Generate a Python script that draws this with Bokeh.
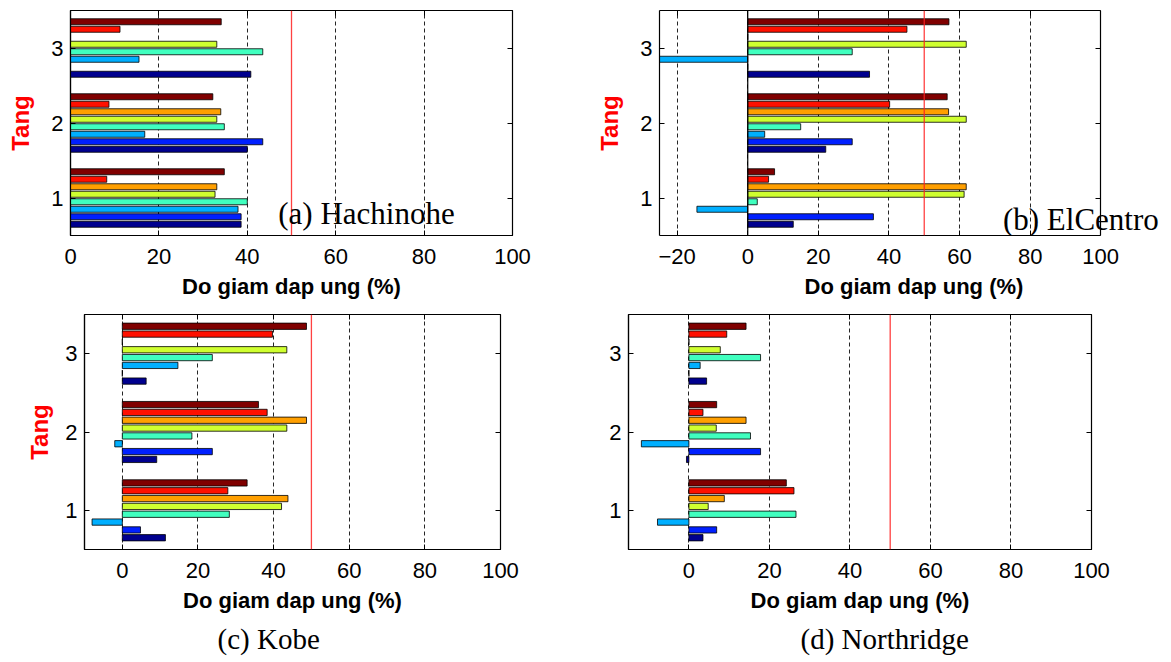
from bokeh.plotting import figure
from bokeh.layouts import column, row
from bokeh.models import (Range1d, FixedTicker, LinearAxis, Span, Label,
                          Title, CustomJSTickFormatter)
from bokeh.embed import file_html
from bokeh.resources import INLINE

# ---------------- data ----------------
groups = [1, 2, 3]
group_labels = ["1", "2", "3"]
x_label = "Do giam dap ung (%)"
y_label = "Tang"

# series colours (bottom -> top within each group), jet colormap
series_colors = ["#00008F", "#0020FF", "#00AFFF", "#40FFBF",
                 "#CFFF30", "#FF9F00", "#FF1000", "#800000"]

# values per series, for Tang 1, 2, 3
hachinohe = [
    [38.6, 40.0, 40.8],
    [38.6, 43.5, 0.0],
    [37.9, 16.8, 15.5],
    [40.0, 34.8, 43.5],
    [32.7, 33.1, 33.1],
    [33.1, 34.0, 0.0],
    [8.2, 8.7, 11.2],
    [34.8, 32.2, 34.1],
]
elcentro = [
    [12.9, 22.1, 34.5],
    [35.6, 29.6, 0.0],
    [-14.4, 4.8, -25.0],
    [2.7, 15.0, 29.6],
    [61.3, 61.9, 61.9],
    [61.9, 56.9, 0.0],
    [5.9, 40.2, 45.1],
    [7.6, 56.5, 57.0],
]
kobe = [
    [11.4, 9.1, 6.3],
    [4.8, 23.8, 0.0],
    [-8.0, -2.0, 14.7],
    [28.3, 18.4, 23.8],
    [42.1, 43.5, 43.5],
    [43.8, 48.7, 0.0],
    [27.9, 38.3, 39.7],
    [33.0, 36.0, 48.7],
]
northridge = [
    [3.5, -0.6, 4.4],
    [6.9, 17.8, 0.0],
    [-7.8, -11.8, 2.8],
    [26.6, 15.3, 17.8],
    [4.8, 6.8, 7.8],
    [8.8, 14.2, 0.0],
    [26.1, 3.5, 9.4],
    [24.2, 6.9, 14.2],
]

threshold = 50
xmax = 100
captions = ["(a) Hachinohe", "(b) ElCentro", "(c) Kobe", "(d) Northridge"]

TICK_FONT = "Liberation Sans"
CAP_FONT = "Liberation Serif"
blank = CustomJSTickFormatter(code="return ''")


def hidden_axis(ticks, **kw):
    return LinearAxis(ticker=FixedTicker(ticks=ticks), formatter=blank,
                      major_label_text_font_size="1px",
                      major_label_standoff=0, major_tick_in=5,
                      major_tick_out=0, minor_tick_line_color=None,
                      major_tick_line_color="black", **kw)


def make_panel(data, xmin, xticks, width, height, borders, ylabel_standoff,
               extra_right=0.0):
    bl, br, bt, bb = borders
    x_end = xmax + extra_right
    p = figure(width=width, height=height, output_backend="svg",
               toolbar_location=None,
               x_range=Range1d(xmin, x_end), y_range=Range1d(0.5, 3.5),
               min_border_left=bl, min_border_right=br,
               min_border_top=bt, min_border_bottom=bb)
    p.background_fill_color = "white"
    p.border_fill_color = "white"
    if extra_right:
        p.outline_line_color = None
    else:
        p.outline_line_color = "black"
        p.outline_line_width = 1.2

    n = len(data)
    for i, vals in enumerate(data):
        ys = [g + (i - (n - 1) / 2) * 0.1 for g in groups]
        p.hbar(y=ys, right=vals, left=0, height=0.08,
               fill_color=series_colors[i], line_color="black",
               line_width=0.8)

    xt = FixedTicker(ticks=xticks)
    xa = p.xaxis[0]
    ya = p.yaxis[0]
    xa.ticker = xt
    ya.ticker = FixedTicker(ticks=groups)
    ya.major_label_overrides = {g: s for g, s in zip(groups, group_labels)}
    for ax in (xa, ya):
        ax.major_tick_in = 5
        ax.major_tick_out = 0
        ax.minor_tick_line_color = None
        ax.major_label_text_font = TICK_FONT
        ax.major_label_text_font_size = "22px"
        ax.major_label_text_color = "black"
        ax.axis_line_color = "black"
        ax.axis_line_width = 1.2
        ax.major_tick_line_color = "black"
        ax.axis_label_text_font = TICK_FONT
        ax.axis_label_text_font_style = "bold"
    xa.major_label_standoff = 13
    ya.major_label_standoff = 7
    xa.axis_label = x_label
    xa.axis_label_text_font_size = "22px"
    xa.axis_label_text_color = "black"
    xa.axis_label_standoff = 7
    if ylabel_standoff is not None:
        ya.axis_label = y_label
        ya.axis_label_text_font_size = "24px"
        ya.axis_label_text_color = "red"
        ya.axis_label_standoff = ylabel_standoff

    if extra_right:
        xa.bounds = (xmin, xmax)
        top = hidden_axis(xticks, bounds=(xmin, xmax), axis_line_color="black",
                          axis_line_width=1.2)
        right = hidden_axis(groups, fixed_location=xmax,
                            axis_line_color="black", axis_line_width=1.2)
    else:
        top = hidden_axis(xticks, axis_line_color=None)
        right = hidden_axis(groups, axis_line_color=None)
    p.add_layout(top, "above")
    p.add_layout(right, "right")

    p.xgrid.ticker = xt
    p.xgrid.grid_line_color = "black"
    p.xgrid.grid_line_dash = "4 3"
    p.xgrid.grid_line_width = 1
    p.xgrid.grid_line_alpha = 0.85
    p.ygrid.grid_line_color = None

    p.add_layout(Span(location=threshold, dimension="height",
                      line_color="#ff2020", line_width=1.3, line_alpha=0.85))
    return p


pa = make_panel(hachinohe, -0.0, [0, 20, 40, 60, 80, 100], 585, 305,
                (70, 73, 10, 69), 14)
pb = make_panel(elcentro, -25, [-20, 0, 20, 40, 60, 80, 100], 585, 305,
                (74, 2, 9, 70), 14, extra_right=19.2)
pc = make_panel(kobe, -10, [0, 20, 40, 60, 80, 100], 585, 355,
                (84, 85, 8, 110), 9)
pd = make_panel(northridge, -15, [0, 20, 40, 60, 80, 100], 585, 355,
                (43, 79, 9, 110), None)

# zero baseline in (b)
pb.add_layout(Span(location=0, dimension="height", line_color="black",
                   line_width=1.2))

# captions
pa.add_layout(Label(x=47.0, y=0.796, text=captions[0], text_font=CAP_FONT,
                    text_font_size="31px", text_color="black",
                    text_align="left", text_baseline="alphabetic"))
pb.add_layout(Label(x=72.3, y=0.71, text=captions[1], text_font=CAP_FONT,
                    text_font_size="31px", text_color="black",
                    text_align="left", text_baseline="alphabetic"))
pc.add_layout(Title(text=captions[2], align="left", offset=133,
                    text_font=CAP_FONT, text_font_size="29px",
                    text_font_style="normal", text_color="black",
                    standoff=11), "below")
pd.add_layout(Title(text=captions[3], align="left", offset=172,
                    text_font=CAP_FONT, text_font_size="29px",
                    text_font_style="normal", text_color="black",
                    standoff=11), "below")

layout = column(row(pa, pb, spacing=0), row(pc, pd, spacing=0), spacing=0)

with open("out.html", "w") as f:
    f.write(file_html(layout, INLINE))
